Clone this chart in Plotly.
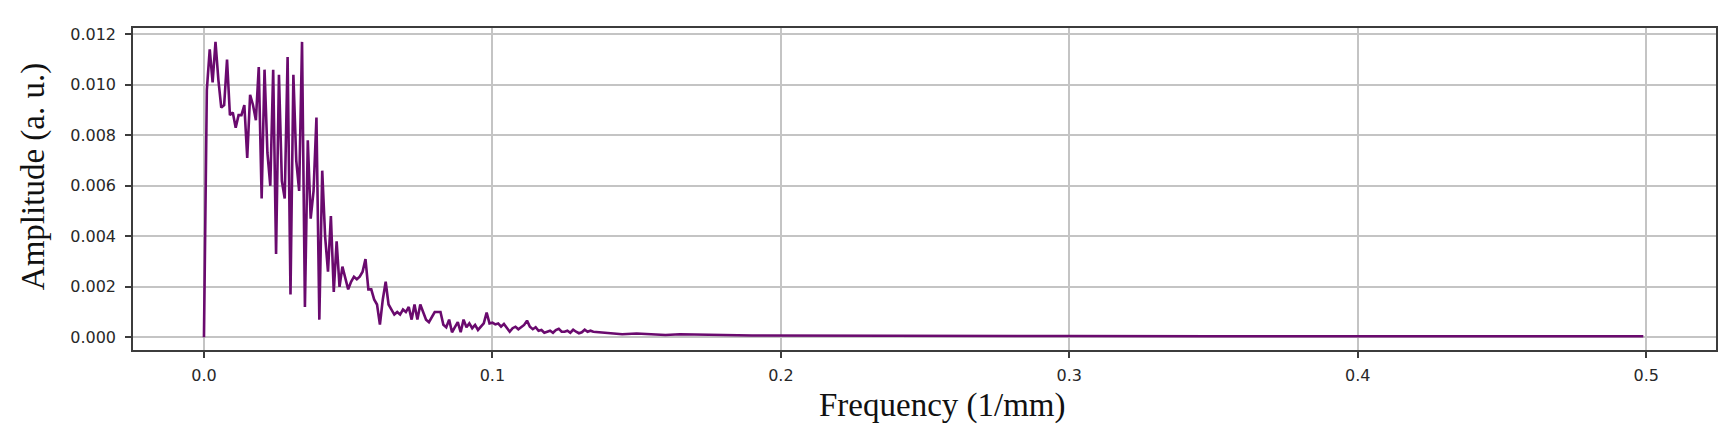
import plotly.graph_objects as go

# Frequency axis (1/mm) and spectrum amplitude (a. u.)
freq_dense = [
    0.000, 0.001, 0.002, 0.003, 0.004, 0.005, 0.006, 0.007, 0.008, 0.009,
    0.010, 0.011, 0.012, 0.013, 0.014, 0.015, 0.016, 0.017, 0.018, 0.019,
    0.020, 0.021, 0.022, 0.023, 0.024, 0.025, 0.026, 0.027, 0.028, 0.029,
    0.030, 0.031, 0.032, 0.033, 0.034, 0.035, 0.036, 0.037, 0.038, 0.039,
    0.040, 0.041, 0.042, 0.043, 0.044, 0.045, 0.046, 0.047, 0.048, 0.049,
    0.050, 0.051, 0.052, 0.053, 0.054, 0.055, 0.056, 0.057, 0.058, 0.059,
    0.060, 0.061, 0.062, 0.063, 0.064, 0.065, 0.066, 0.067, 0.068, 0.069,
    0.070, 0.071, 0.072, 0.073, 0.074, 0.075, 0.076, 0.077, 0.078, 0.079,
    0.080, 0.081, 0.082, 0.083, 0.084, 0.085, 0.086, 0.087, 0.088, 0.089,
    0.090, 0.091, 0.092, 0.093, 0.094, 0.095, 0.096, 0.097, 0.098, 0.099,
    0.100, 0.101, 0.102, 0.103, 0.104, 0.105, 0.106, 0.107, 0.108, 0.109,
    0.110, 0.111, 0.112, 0.113, 0.114, 0.115, 0.116, 0.117, 0.118, 0.119,
    0.120, 0.121, 0.122, 0.123, 0.124, 0.125, 0.126, 0.127, 0.128, 0.129,
    0.130, 0.131, 0.132, 0.133, 0.134, 0.135,
]
amp_dense = [
    0.0000, 0.0098, 0.0114, 0.0101, 0.0117, 0.0102, 0.0091, 0.0092, 0.0110, 0.0088,
    0.0089, 0.0083, 0.0088, 0.0088, 0.0092, 0.0071, 0.0096, 0.0092, 0.0086, 0.0107,
    0.0055, 0.0106, 0.0073, 0.0060, 0.0106, 0.0033, 0.0104, 0.0062, 0.0055, 0.0111,
    0.0017, 0.0104, 0.0070, 0.0058, 0.0117, 0.0012, 0.0078, 0.0047, 0.0058, 0.0087,
    0.0007, 0.0066, 0.0040, 0.0026, 0.0048, 0.0018, 0.0038, 0.0020, 0.0028, 0.0023,
    0.0019, 0.0022, 0.0024, 0.0023, 0.0024, 0.0026, 0.0031, 0.0019, 0.0019, 0.0015,
    0.0013, 0.0005, 0.0015, 0.0022, 0.0013, 0.0011, 0.0009, 0.0010, 0.0009, 0.0011,
    0.0010, 0.0012, 0.0007, 0.0013, 0.0007, 0.0013, 0.0010, 0.0007, 0.0006, 0.0008,
    0.0010, 0.0010, 0.0010, 0.0005, 0.0004, 0.0007, 0.0002, 0.0004, 0.0006, 0.0002,
    0.0007, 0.0004, 0.00055, 0.00036, 0.00049, 0.00029, 0.00042, 0.00055, 0.00098, 0.00055,
    0.00058, 0.00051, 0.00055, 0.00042, 0.00053, 0.00036, 0.00022, 0.00036, 0.00042, 0.00032,
    0.00040, 0.00049, 0.00066, 0.00042, 0.00032, 0.00040, 0.00026, 0.00029, 0.00018, 0.00022,
    0.00026, 0.00018, 0.00029, 0.00034, 0.00022, 0.00022, 0.00026, 0.00018, 0.00030, 0.00022,
    0.00016, 0.00020, 0.00030, 0.00022, 0.00026, 0.00022,
]
freq_tail = [0.140, 0.145, 0.150, 0.155, 0.160, 0.165, 0.170, 0.175, 0.180,
             0.190, 0.200, 0.220, 0.250, 0.300, 0.350, 0.400, 0.450, 0.499]
amp_tail = [0.00016, 0.00012, 0.00015, 0.00012, 0.00009, 0.00012, 0.00010, 0.00008, 0.00009,
            0.00007, 0.00007, 0.00006, 0.00005, 0.00005, 0.00004, 0.00004, 0.00004, 0.00004]

x_ticks = [0.0, 0.1, 0.2, 0.3, 0.4, 0.5]
y_ticks = [0.000, 0.002, 0.004, 0.006, 0.008, 0.010, 0.012]

freq = freq_dense + freq_tail
amp = amp_dense + amp_tail

# The page body has an 8px margin, so the figure is placed 8px in.
OFF = 8
W, H = 1734 - 2 * OFF, 433 - 2 * OFF
L, R, T, B = 133 - OFF, 1718 - OFF, 28 - OFF, 350 - OFF

fig = go.Figure()
fig.add_trace(go.Scatter(
    x=freq, y=amp, mode="lines",
    line=dict(color="#6a0a6e", width=2.6),
    showlegend=False, hoverinfo="skip",
))

axis_common = dict(
    showline=True, linecolor="#3c3c3c", linewidth=1.5, mirror=True,
    showgrid=True, gridcolor="#c4c4c4", gridwidth=1.5,
    zeroline=False,
    ticks="outside", ticklen=6, tickwidth=1.5, tickcolor="#3c3c3c",
    tickfont=dict(family="DejaVu Sans", size=16, color="#282828"),
)

fig.update_xaxes(
    range=[-0.0246, 0.5242], tickvals=x_ticks, tickformat=".1f",
    ticklabelstandoff=4, **axis_common,
)
fig.update_yaxes(
    range=[-0.000503, 0.01225], tickvals=y_ticks, tickformat=".3f",
    ticklabelstandoff=6, **axis_common,
)

title_font = dict(family="Liberation Serif", size=33, color="#111111")
fig.add_annotation(
    text="Frequency (1/mm)", xref="paper", yref="paper",
    x=(944 - OFF - L) / (R - L), y=(B - (405 - OFF)) / (B - T),
    xanchor="center", yanchor="middle", showarrow=False, font=title_font,
)
fig.add_annotation(
    text="Amplitude (a. u.)", xref="paper", yref="paper",
    x=(33 - OFF - L) / (R - L), y=(B - (177 - OFF)) / (B - T), textangle=-90,
    xanchor="center", yanchor="middle", showarrow=False, font=title_font,
)

fig.update_layout(
    width=W, height=H,
    margin=dict(l=L, r=W - R, t=T, b=H - B, pad=0),
    paper_bgcolor="white", plot_bgcolor="white",
)

fig.write_html("out.html")
